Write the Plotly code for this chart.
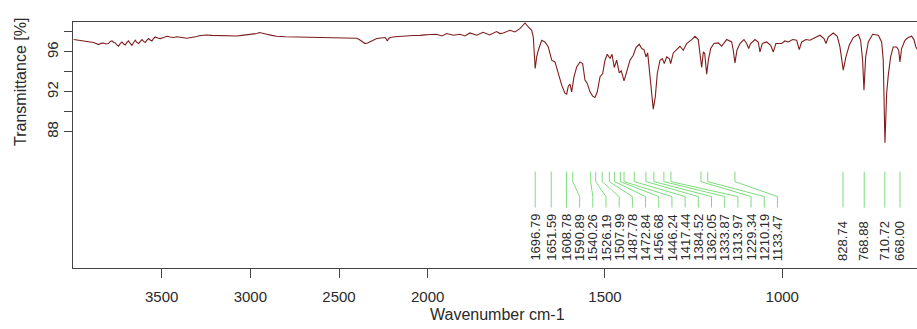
import plotly.graph_objects as go

# ---- spectrum (wavenumber cm-1, transmittance %) ----
wavenumber = [
    3996, 3978, 3959, 3940, 3921, 3902, 3884, 3870, 3856, 3842, 3828, 3814, 3800, 3790, 3780, 3771,
    3762, 3752, 3743, 3733, 3724, 3714, 3705, 3696, 3687, 3677, 3668, 3658, 3649, 3640, 3630, 3620,
    3611, 3602, 3593, 3584, 3574, 3565, 3555, 3546, 3536, 3522, 3508, 3489, 3470, 3452, 3433, 3414,
    3395, 3376, 3358, 3339, 3320, 3301, 3283, 3264, 3245, 3217, 3189, 3160, 3132, 3104, 3076, 3048,
    3020, 2991, 2963, 2949, 2935, 2921, 2907, 2879, 2851, 2804, 2757, 2710, 2663, 2616, 2569, 2522,
    2476, 2438, 2400, 2386, 2372, 2362, 2353, 2339, 2325, 2306, 2287, 2263, 2240, 2234, 2228, 2220,
    2212, 2184, 2156, 2118, 2081, 2043, 2006, 1990, 1975, 1960, 1946, 1928, 1909, 1895, 1881, 1862,
    1844, 1825, 1806, 1796, 1787, 1768, 1754, 1740, 1732, 1725.6, 1716.3, 1706.7, 1702.2, 1696.8,
    1692.6, 1688, 1678.5, 1669.2, 1659.9, 1650.3, 1641, 1631.7, 1622.1, 1612.8, 1608, 1603.5, 1598.7,
    1594, 1587.4, 1579.8, 1570.5, 1563, 1556.4, 1549.9, 1542.3, 1534.7, 1528.2, 1521.7, 1514.1,
    1506.5, 1500, 1493.5, 1485.9, 1480.3, 1473.8, 1467, 1459.7, 1454.1, 1446.4, 1438.8, 1429.5,
    1420.2, 1412.6, 1403.3, 1396.5, 1390, 1384.4, 1379.6, 1373.1, 1363.8, 1358.1, 1352.5, 1344.9,
    1338.4, 1332.7, 1326, 1318.6, 1314.7, 1307.4, 1297.8, 1288.5, 1279.2, 1269.6, 1255.5, 1246.2,
    1236.9, 1231.2, 1227.3, 1222.6, 1218.7, 1213.2, 1208.4, 1201.9, 1192.6, 1180.5, 1171, 1156.8,
    1142.7, 1138.2, 1133.4, 1127.8, 1119.3, 1108, 1100.4, 1094.8, 1089.1, 1077, 1067.7, 1062.9,
    1056.4, 1044, 1032.7, 1025.4, 1017.8, 1001.7, 992.4, 983.1, 970.6, 959.4, 952, 945.3, 933.1,
    921.9, 907.8, 893.7, 882.4, 876.7, 870.3, 856.2, 844.8, 837.3, 828, 820.4, 811.1, 799.8, 785.7,
    779, 773.4, 769.6, 764.8, 757.4, 745, 729.2, 719.7, 715.2, 710.4, 705.6, 701, 694.4, 687, 677.5,
    671.8, 668.1, 663.4, 654, 644.8, 635.2, 628.7, 623.1, 618,
]
transmittance = [
    97.24, 97.20, 97.17, 97.10, 97.07, 97.00, 96.94, 96.85, 96.74, 96.86, 96.90, 96.80, 96.84, 97.05, 97.10, 96.95,
    96.90, 96.70, 96.57, 96.85, 97.00, 96.80, 96.70, 96.95, 97.10, 96.85, 96.67, 96.95, 97.17, 96.95, 96.84, 97.05,
    97.24, 97.05, 96.94, 97.15, 97.34, 97.20, 97.10, 97.35, 97.50, 97.40, 97.34, 97.45, 97.57, 97.50, 97.44, 97.52,
    97.50, 97.42, 97.37, 97.42, 97.44, 97.55, 97.64, 97.68, 97.70, 97.66, 97.64, 97.68, 97.67, 97.62, 97.60, 97.66,
    97.70, 97.78, 97.84, 97.94, 97.90, 97.82, 97.77, 97.66, 97.57, 97.52, 97.50, 97.52, 97.50, 97.47, 97.44, 97.46,
    97.44, 97.40, 97.37, 97.25, 97.10, 96.95, 96.84, 96.90, 97.00, 97.20, 97.34, 97.40, 97.44, 97.30, 97.10, 97.35,
    97.44, 97.52, 97.57, 97.62, 97.64, 97.66, 97.70, 97.72, 97.77, 97.60, 97.84, 97.67, 97.77, 97.60, 97.90, 97.67,
    97.97, 97.70, 98.04, 97.84, 97.90, 98.17, 98.00, 98.34, 98.60, 98.90, 98.50, 98.17, 97.50, 94.34,
    95.50, 96.17, 97.17, 97.00, 96.50, 95.17, 95.00, 93.84, 92.67, 91.84, 91.77, 92.57, 92.77,
    92.00, 93.50, 94.50, 95.00, 94.84, 93.17, 92.84, 92.00, 91.57, 91.44, 92.00, 93.50,
    93.84, 95.17, 95.77, 95.34, 95.77, 94.44, 95.17, 93.90, 94.10, 93.10, 94.00, 95.17,
    95.67, 96.44, 96.77, 96.34, 96.24, 95.50, 95.90, 93.84, 90.27, 91.50, 93.84, 95.17,
    95.34, 94.84, 95.50, 95.34, 94.84, 95.90, 96.24, 96.57, 96.17, 96.84, 97.24, 97.57,
    97.24, 95.84, 94.44, 96.00, 95.84, 93.77, 95.17, 96.34, 96.84, 96.90, 96.57, 97.24,
    97.00, 96.17, 94.90, 96.17, 96.84, 97.24, 96.84, 96.34, 96.84, 97.24, 97.00, 96.00,
    96.84, 97.00, 96.67, 96.00, 96.84, 96.84, 97.10, 97.00, 97.24, 97.17, 96.24, 97.00, 97.24,
    97.17, 97.44, 97.67, 97.34, 96.84, 97.50, 97.90, 97.57, 96.50, 94.17, 95.50, 96.67, 97.44, 97.77,
    97.17, 95.17, 92.17, 95.50, 97.00, 97.77, 97.67, 97.00, 95.17, 86.90, 91.84, 93.67, 95.50, 96.50, 96.50,
    96.17, 95.00, 96.34, 97.17, 97.44, 97.57, 97.24, 96.50, 96.20,
]

# ---- labelled peaks ----
peaks = [1696.79, 1651.59, 1608.78, 1590.89, 1540.26, 1526.19, 1507.99, 1487.78, 1472.84,
         1456.68, 1446.24, 1417.44, 1384.52, 1362.05, 1333.87, 1313.97, 1229.34, 1210.19,
         1133.47, 828.74, 768.88, 710.72, 668.00]

x_ticks_hi = [3500, 3000, 2500]
x_ticks_lo = [2000, 1500, 1000]
y_ticks = [88, 90, 92, 94, 96, 98]
y_ticklabels = ["88", "", "92", "", "96", ""]

LINE = "#7f1d1d"
GREEN = "#7ddc7d"
TXT = "#2a2a2a"
AX = "#444444"
FONT = "Liberation Sans, Arial, sans-serif"

# spread labels so they do not overlap (minimum gap in cm-1 on the lower scale)
gap = 37.2
label_pos = []
for i, p in enumerate(peaks):
    if i == 0:
        label_pos.append(p)
    else:
        label_pos.append(min(p, label_pos[-1] - gap))

fig = go.Figure()
fig.add_trace(go.Scatter(x=wavenumber, y=transmittance, mode="lines", xaxis="x", yaxis="y",
                         line=dict(color=LINE, width=1.1), hoverinfo="skip"))
fig.add_trace(go.Scatter(x=wavenumber, y=transmittance, mode="lines", xaxis="x2", yaxis="y",
                         line=dict(color=LINE, width=1.1), hoverinfo="skip"))

gx, gy = [], []
for p, lp in zip(peaks, label_pos):
    gx += [p, p, lp, lp, None]
    gy += [84.0, 83.0, 81.5, 80.4, None]
fig.add_trace(go.Scatter(x=gx, y=gy, mode="lines", xaxis="x2", yaxis="y",
                         line=dict(color=GREEN, width=1), hoverinfo="skip"))

annotations = []
for p, lp in zip(peaks, label_pos):
    annotations.append(dict(x=lp, y=74.85, xref="x2", yref="y", text=f"{p:.2f}",
                            textangle=-90, showarrow=False, xanchor="center", yanchor="bottom",
                            font=dict(family=FONT, size=13, color=TXT)))
annotations.append(dict(x=0.5024, y=-0.19, xref="paper", yref="paper", text="Wavenumber cm-1",
                        showarrow=False, xanchor="center", yanchor="middle",
                        font=dict(family=FONT, size=16, color=TXT)))
annotations.append(dict(x=-0.063, y=0.7555, xref="paper", yref="paper", text="Transmittance [%]",
                        textangle=-90, showarrow=False, xanchor="center", yanchor="middle",
                        font=dict(family=FONT, size=16, color=TXT)))

split = (427.7 - 73) / (917 - 73)
common_x = dict(showline=True, linecolor=AX, linewidth=1, mirror=True, ticks="outside",
                ticklen=9, tickcolor=AX, showgrid=False, zeroline=False,
                tickfont=dict(family=FONT, size=15, color=TXT), ticklabelstandoff=6)
fig.update_layout(
    width=917, height=329,
    margin=dict(l=73, r=0, t=22, b=61),
    paper_bgcolor="white", plot_bgcolor="white",
    showlegend=False,
    xaxis=dict(domain=[0, split], range=[4000, 2000], tickvals=x_ticks_hi, anchor="y", **common_x),
    xaxis2=dict(domain=[split, 1], range=[2000, 620], tickvals=x_ticks_lo, anchor="y", **common_x),
    yaxis=dict(range=[74.34, 99.0], tickvals=y_ticks, ticktext=y_ticklabels, tickangle=-90,
               showline=True, linecolor=AX, linewidth=1, ticks="outside", ticklen=8, tickcolor=AX,
               showgrid=False, zeroline=False, anchor="x",
               tickfont=dict(family=FONT, size=15, color=TXT)),
    annotations=annotations,
)
fig.write_html("out.html", config={"displayModeBar": False},
               post_script="document.body.style.margin='0';document.body.style.overflow='hidden';")
